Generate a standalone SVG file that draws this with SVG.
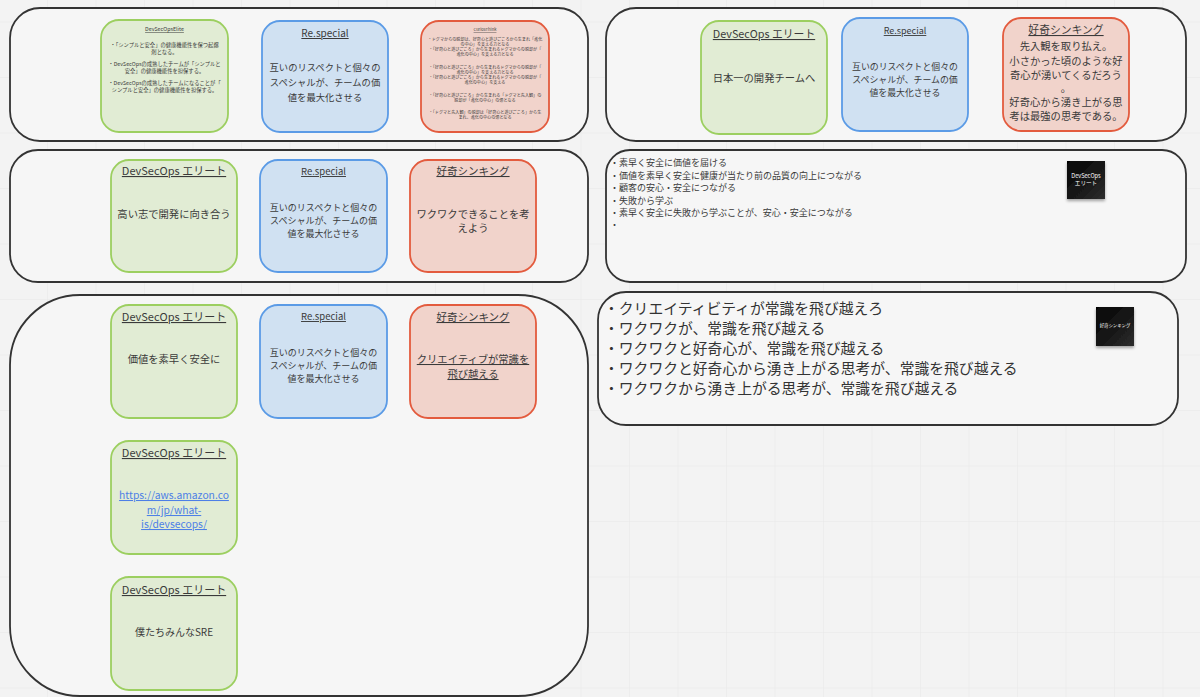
<svg xmlns="http://www.w3.org/2000/svg" width="1200" height="697" viewBox="0 0 1200 697">
<defs>
<pattern id="grid" width="48.5" height="55.5" patternUnits="userSpaceOnUse" x="-1.5" y="21.5">
<path d="M0 0H48.5M0 0V55.5" fill="none" stroke="#e8e8e8" stroke-width="1"/>
</pattern>
<linearGradient id="sticky" x1="0" y1="0" x2="1" y2="1">
<stop offset="0" stop-color="#050505"/>
<stop offset="0.6" stop-color="#1a1a1a"/>
<stop offset="1" stop-color="#2e2e2e"/>
</linearGradient>
<filter id="shadow" x="-30%" y="-30%" width="160%" height="170%">
<feDropShadow dx="0" dy="2" stdDeviation="1.5" flood-color="#000" flood-opacity="0.35"/>
</filter>
</defs>
<style>
.bg{fill:#f3f3f3}
.box{fill:#f6f6f6;stroke:#333;stroke-width:1.8}
.g{fill:#e1ecd4;stroke:#9ccf60;stroke-width:1.8}
.b{fill:#d0e1f2;stroke:#5b9be6;stroke-width:1.8}
.r{fill:#f1d3cb;stroke:#e35b3e;stroke-width:1.8}
text{font-family:"Noto Sans CJK JP","Noto Sans",sans-serif;fill:#3a3a3a}
.c{text-anchor:middle}
.t{text-decoration:underline}
.s{font-size:9px}
.xs{font-size:5.3px}
.xxs{font-size:4.1px}
.link{fill:#4d7fe6;text-decoration:underline}
.note{fill:url(#sticky);filter:url(#shadow)}
.nt{fill:#fff;text-anchor:middle}
.big{font-size:14.8px;fill:#333}
</style>
<rect class="bg" x="0" y="0" width="1200" height="697"/>
<rect x="0" y="0" width="1200" height="697" fill="url(#grid)"/>

<g id="group-top-left">
<rect class="box" x="10" y="8" width="578" height="133" rx="30"/>
</g>
<g id="group-row2-left">
<rect class="box" x="10" y="150" width="578" height="132" rx="28"/>
</g>
<g id="group-bottom-left">
<rect class="box" x="10" y="295" width="578" height="401" rx="70"/>
</g>
<g id="group-top-right">
<rect class="box" x="606" y="8" width="580" height="133" rx="30"/>
</g>
<g id="group-notes-1">
<rect class="box" x="606" y="150" width="580" height="132" rx="24"/>
</g>
<g id="group-notes-2">
<rect class="box" x="598" y="292" width="580" height="133" rx="28"/>
</g>

<g id="card-elite-small">
<rect class="g" x="101" y="20" width="127" height="112" rx="18"/>
<text class="xs c t" x="164.5" y="31">DevSecOpsElite</text>
<text class="xs c" x="164.5" y="47">・「シンプルと安全」の健康機能性を保つ起爆</text>
<text class="xs c" x="164.5" y="54">剤となる。</text>
<text class="xs c" x="164.5" y="66">・DevSecOpsの成熟したチームが「シンプルと</text>
<text class="xs c" x="164.5" y="73">安全」の健康機能性を担保する。</text>
<text class="xs c" x="164.5" y="85">・DevSecOpsの成熟したチームになることが「</text>
<text class="xs c" x="164.5" y="92">シンプルと安全」の健康機能性を担保する。</text>
</g>
<g id="card-respecial-1">
<rect class="b" x="262" y="21" width="126" height="111" rx="18"/>
<text class="c t" font-size="10" x="325" y="37">Re.special</text>
<text class="c" font-size="9.3" x="325" y="71">互いのリスペクトと個々の</text>
<text class="c" font-size="9.3" x="325" y="86">スペシャルが、チームの価</text>
<text class="c" font-size="9.3" x="325" y="101">値を最大化させる</text>
</g>
<g id="card-curios-small">
<rect class="r" x="421" y="21" width="128" height="111" rx="18"/>
<text class="xxs c t" x="485" y="31">CuriosThink</text>
<text class="xxs c" x="485" y="41">・ドグマからの脱却は、好奇心と遊びごころから生まれ「進化</text>
<text class="xxs c" x="485" y="46">の中心」を支える力となる</text>
<text class="xxs c" x="485" y="51">・「好奇心と遊びごころ」から生まれるドグマからの脱却が「</text>
<text class="xxs c" x="485" y="56">進化の中心」を支える力となる</text>
<text class="xxs c" x="485" y="69">・「好奇心と遊びごころ」から生まれるドグマからの脱却が「</text>
<text class="xxs c" x="485" y="74">進化の中心」を支える力となる</text>
<text class="xxs c" x="485" y="79">・「好奇心と遊びごころ」から生まれるドグマからの脱却が「</text>
<text class="xxs c" x="485" y="84">進化の中心」を支える</text>
<text class="xxs c" x="485" y="97">・「好奇心と遊びごころ」から生まれる「ドグマと先入観」の</text>
<text class="xxs c" x="485" y="102">脱却が「進化の中心」の源となる</text>
<text class="xxs c" x="485" y="114">・「ドグマと先入観」の脱却は「好奇心と遊びごころ」から生</text>
<text class="xxs c" x="485" y="119">まれ、進化の中心の源となる</text>
</g>

<g id="card-elite-2">
<rect class="g" x="111" y="160" width="126" height="112" rx="18"/>
<text class="c t" font-size="11" x="174" y="175">DevSecOps エリート</text>
<text class="c" font-size="10.3" x="174" y="218">高い志で開発に向き合う</text>
</g>
<g id="card-respecial-2">
<rect class="b" x="260" y="160" width="127" height="112" rx="18"/>
<text class="c t" font-size="9.5" x="323.5" y="175">Re.special</text>
<text class="s c" x="323.5" y="211">互いのリスペクトと個々の</text>
<text class="s c" x="323.5" y="224">スペシャルが、チームの価</text>
<text class="s c" x="323.5" y="237">値を最大化させる</text>
</g>
<g id="card-curious-2">
<rect class="r" x="410" y="160" width="126" height="112" rx="18"/>
<text class="c t" font-size="10.5" x="473" y="175">好奇シンキング</text>
<text class="c" font-size="10.3" x="473" y="218">ワクワクできることを考</text>
<text class="c" font-size="10.3" x="473" y="232">えよう</text>
</g>

<g id="card-elite-3">
<rect class="g" x="111" y="305" width="126" height="113" rx="18"/>
<text class="c t" font-size="11" x="174" y="321">DevSecOps エリート</text>
<text class="c" font-size="10.3" x="174" y="363">価値を素早く安全に</text>
</g>
<g id="card-respecial-3">
<rect class="b" x="260" y="305" width="127" height="113" rx="18"/>
<text class="c t" font-size="9.5" x="323.5" y="320">Re.special</text>
<text class="s c" x="323.5" y="356">互いのリスペクトと個々の</text>
<text class="s c" x="323.5" y="369">スペシャルが、チームの価</text>
<text class="s c" x="323.5" y="382">値を最大化させる</text>
</g>
<g id="card-curious-3">
<rect class="r" x="410" y="305" width="126" height="113" rx="18"/>
<text class="c t" font-size="10.5" x="473" y="321">好奇シンキング</text>
<text class="c t" font-size="10.3" x="473" y="363">クリエイティブが常識を</text>
<text class="c t" font-size="10.3" x="473" y="378">飛び越える</text>
</g>

<g id="card-elite-4">
<rect class="g" x="111" y="441" width="126" height="113" rx="18"/>
<text class="c t" font-size="11" x="174" y="457">DevSecOps エリート</text>
<text class="c link" font-size="10.3" x="174" y="499">https://aws.amazon.co</text>
<text class="c link" font-size="10.3" x="174" y="514">m/jp/what-</text>
<text class="c link" font-size="10.3" x="174" y="528">is/devsecops/</text>
</g>
<g id="card-elite-5">
<rect class="g" x="111" y="577" width="126" height="113" rx="18"/>
<text class="c t" font-size="11" x="174" y="594">DevSecOps エリート</text>
<text class="c" font-size="10" x="174" y="636">僕たちみんなSRE</text>
</g>

<g id="card-elite-top">
<rect class="g" x="701" y="21" width="126" height="113" rx="18"/>
<text class="c t" font-size="10.8" x="764" y="38">DevSecOps エリート</text>
<text class="c" font-size="10.3" x="764" y="82">日本一の開発チームへ</text>
</g>
<g id="card-respecial-top">
<rect class="b" x="842" y="18" width="126" height="113" rx="18"/>
<text class="c t" font-size="9" x="905" y="34">Re.special</text>
<text class="c" font-size="8.9" x="905" y="70">互いのリスペクトと個々の</text>
<text class="c" font-size="8.9" x="905" y="83">スペシャルが、チームの価</text>
<text class="c" font-size="8.9" x="905" y="96">値を最大化させる</text>
</g>
<g id="card-curious-top">
<rect class="r" x="1003" y="18" width="126" height="113" rx="18"/>
<text class="c t" font-size="10.8" x="1066" y="34">好奇シンキング</text>
<text class="c" font-size="10.3" x="1066" y="50">先入観を取り払え。</text>
<text class="c" font-size="10.3" x="1066" y="65">小さかった頃のような好</text>
<text class="c" font-size="10.3" x="1066" y="79">奇心が湧いてくるだろう</text>
<text class="c" font-size="10.3" x="1066" y="92">。</text>
<text class="c" font-size="10.3" x="1066" y="106">好奇心から湧き上がる思</text>
<text class="c" font-size="10.3" x="1066" y="120">考は最強の思考である。</text>
</g>

<g id="notes-text-1">
<text class="s" x="610" y="166">・素早く安全に価値を届ける</text>
<text class="s" x="610" y="179">・価値を素早く安全に健康が当たり前の品質の向上につながる</text>
<text class="s" x="610" y="191">・顧客の安心・安全につながる</text>
<text class="s" x="610" y="204">・失敗から学ぶ</text>
<text class="s" x="610" y="216">・素早く安全に失敗から学ぶことが、安心・安全につながる</text>
<text class="s" x="610" y="228">・</text>
</g>
<g id="sticky-elite">
<rect class="note" x="1067" y="161" width="38" height="38"/>
<text class="nt" font-size="5.6" x="1086" y="178">DevSecOps</text>
<text class="nt" font-size="5.6" x="1086" y="185">エリート</text>
</g>

<g id="notes-text-2">
<text class="big" x="604" y="314">・クリエイティビティが常識を飛び越えろ</text>
<text class="big" x="604" y="334">・ワクワクが、常識を飛び越える</text>
<text class="big" x="604" y="354">・ワクワクと好奇心が、常識を飛び越える</text>
<text class="big" x="604" y="374">・ワクワクと好奇心から湧き上がる思考が、常識を飛び越える</text>
<text class="big" x="604" y="394">・ワクワクから湧き上がる思考が、常識を飛び越える</text>
</g>
<g id="sticky-curious">
<rect class="note" x="1096" y="307" width="38" height="39"/>
<text class="nt" font-size="4.4" x="1115" y="327">好奇シンキング</text>
</g>

<g id="connectors"></g>
</svg>
